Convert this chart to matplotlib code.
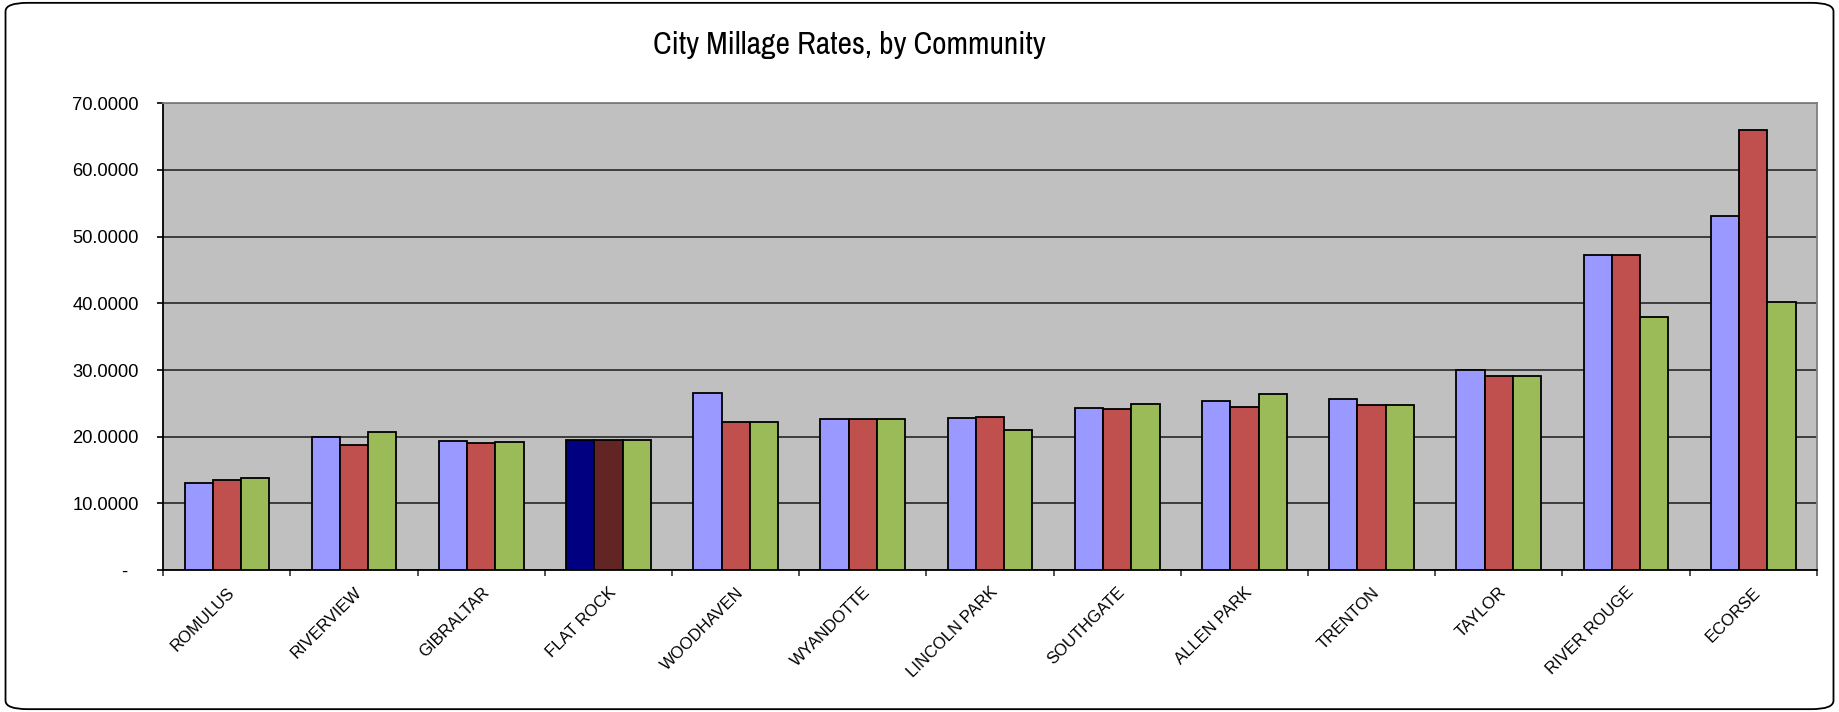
import numpy as np
import matplotlib.pyplot as plt
from matplotlib.patches import FancyBboxPatch
from matplotlib.transforms import ScaledTranslation

communities = ['ROMULUS', 'RIVERVIEW', 'GIBRALTAR', 'FLAT ROCK', 'WOODHAVEN',
               'WYANDOTTE', 'LINCOLN PARK', 'SOUTHGATE', 'ALLEN PARK',
               'TRENTON', 'TAYLOR', 'RIVER ROUGE', 'ECORSE']
series_1 = [13.0, 19.95, 19.35, 19.45, 26.55, 22.7, 22.85, 24.35, 25.3, 25.6, 30.05, 47.25, 53.05]
series_2 = [13.5, 18.7, 19.05, 19.45, 22.2, 22.65, 23.0, 24.2, 24.4, 24.7, 29.15, 47.25, 66.05]
series_3 = [13.85, 20.65, 19.25, 19.45, 22.2, 22.65, 21.0, 24.9, 26.45, 24.7, 29.15, 37.95, 40.25]
y_ticks = [0, 10, 20, 30, 40, 50, 60, 70]
highlight = 'FLAT ROCK'

base_colors = ['#9999FF', '#C0504D', '#9BBB59']
highlight_colors = ['#000080', '#632523', '#9BBB59']

SANS = ['Liberation Sans', 'DejaVu Sans']
NARROW = ['Archivo Narrow', 'DejaVu Sans']


def main():
    fig = plt.figure(figsize=(18.39, 7.12), dpi=100)
    ax = fig.add_axes([0.0888, 0.1994, 0.8991, 0.6555])
    ax.set_facecolor('#C0C0C0')

    # rounded outer frame like the Excel chart area
    frame = FancyBboxPatch((0.003, 0.004), 0.994, 0.992,
                           boxstyle='round,pad=0,rounding_size=0.012',
                           transform=fig.transFigure, fill=False,
                           edgecolor='black', linewidth=1.3)
    fig.patches.append(frame)

    x = np.arange(len(communities))
    width = 0.222
    hi = communities.index(highlight)
    for i, vals in enumerate([series_1, series_2, series_3]):
        cols = [highlight_colors[i] if k == hi else base_colors[i]
                for k in range(len(communities))]
        ax.bar(x + (i - 1) * width, vals, width, color=cols,
               edgecolor='black', linewidth=1.3, zorder=3)

    ax.set_xlim(-0.5, len(communities) - 0.5)
    ax.set_ylim(0, 70)

    ax.set_yticks(y_ticks)
    ax.set_yticklabels(['-  ' if v == 0 else f'{v:.4f}' for v in y_ticks],
                       family=SANS, fontsize=13.2)
    ax.yaxis.grid(True, color='#333333', linewidth=1.3, zorder=1)
    ax.set_axisbelow(True)

    ax.set_xticks(x)
    ax.set_xticklabels(communities, rotation=45, ha='right',
                       rotation_mode='anchor', family=SANS, fontsize=12)
    shift = ScaledTranslation(5 / 100, 0, fig.dpi_scale_trans)
    for lbl in ax.get_xticklabels():
        lbl.set_transform(lbl.get_transform() + shift)
    ax.set_xticks(np.arange(-0.5, len(communities)), minor=True)
    ax.tick_params(axis='x', which='major', length=0, pad=10.5)
    ax.tick_params(axis='x', which='minor', length=4.5, width=1.2, color='#333333')
    ax.tick_params(axis='y', length=4.5, width=1.2, pad=13)

    for side in ['left', 'bottom']:
        ax.spines[side].set_color('black')
        ax.spines[side].set_linewidth(1.3)
    for side in ['top', 'right']:
        ax.spines[side].set_color('#808080')
        ax.spines[side].set_linewidth(1.3)

    title = fig.text(0.4617, 0.937, 'City Millage Rates, by Community',
                     ha='center', va='center', family=NARROW, fontsize=20)
    # fit the title to the width it has in the original (about 392 px)
    fig.canvas.draw()
    w = title.get_window_extent().width
    title.set_fontsize(20 * 392 / w)

    fig.savefig('out.png', dpi=100)


if __name__ == "__main__":
    main()
